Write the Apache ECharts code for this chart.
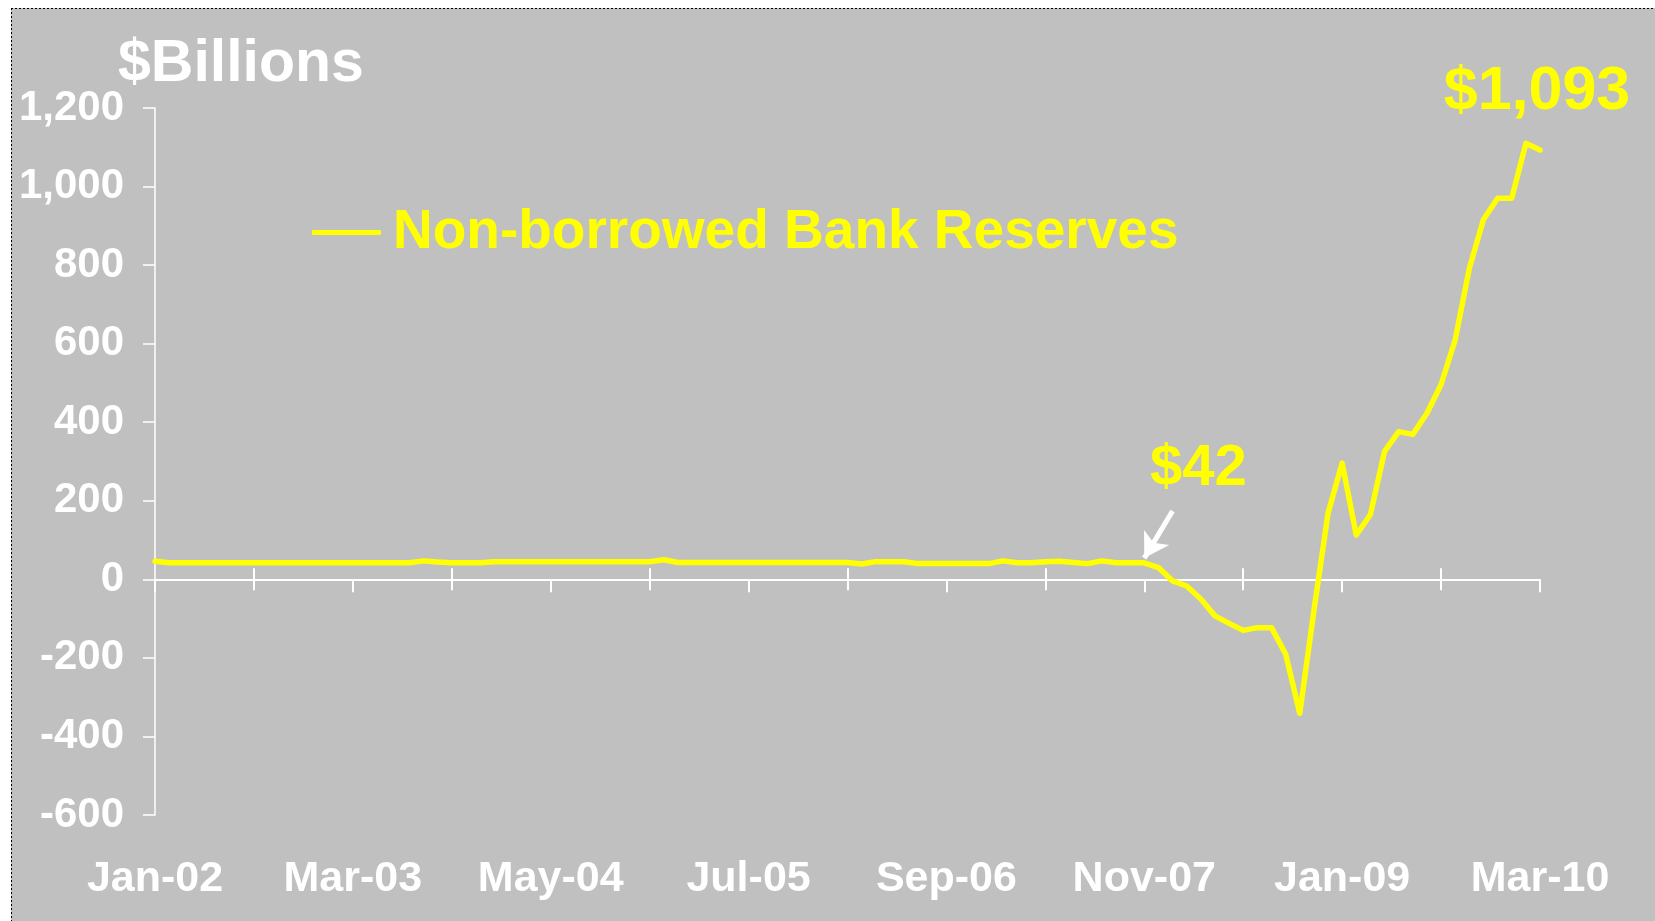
<!DOCTYPE html>
<html>
<head>
<meta charset="utf-8">
<title>Non-borrowed Bank Reserves</title>
<script src="https://cdn.jsdelivr.net/npm/echarts@6/dist/echarts.min.js"></script>
<style>
  html, body { margin: 0; padding: 0; background: #fff; }
  .frame {
    position: absolute; left: 11px; top: 8px; right: 0; bottom: 0;
    background:
      repeating-linear-gradient(to right, #000 0 2px, transparent 2px 4px) top left / 100% 1px no-repeat,
      repeating-linear-gradient(to bottom, #000 0 2px, transparent 2px 4px) top left / 1px 100% no-repeat,
      #c0c0c0;
  }
  #chart { position: absolute; left: 0; top: 0; width: 1655px; height: 921px; }
</style>
</head>
<body>
<div class="frame"></div>
<div id="chart"></div>
<script>
  // monthly categories Jan-02 .. Mar-10
  const monthNames = ['Jan', 'Feb', 'Mar', 'Apr', 'May', 'Jun', 'Jul', 'Aug', 'Sep', 'Oct', 'Nov', 'Dec'];
  const months = [];
  for (let i = 0; i < 99; i++) {
    months.push(monthNames[i % 12] + '-' + String(2 + Math.floor(i / 12)).padStart(2, '0'));
  }

  // $ billions
  const reserves = [
    46, 42, 42, 42, 42, 42, 42, 42, 42, 42, 42, 42, 42, 42, 42, 42, 42, 42, 42,
    47, 44, 42, 42, 42,
    45, 45, 45, 45, 45, 45, 45, 45, 45, 45, 45, 45,
    50, 43, 43, 43, 43, 43, 43, 43, 43, 43, 43, 43, 43, 43,
    39, 45, 45, 45, 40, 40, 40, 40, 40, 40,
    47, 42, 42, 45, 46, 43, 40, 47, 42, 42, 42,
    30, -4, -17, -50, -93, -112, -130, -123, -123, -190, -341, -80,
    168, 296, 113, 165, 326, 376, 369, 423, 496, 610, 792, 916, 970, 970, 1110, 1093
  ];

  const yTicks = [-600, -400, -200, 0, 200, 400, 600, 800, 1000, 1200];

  // callouts
  const calloutLow = { index: 70, text: '$42' };
  const calloutHigh = { index: 98, text: '$1,093' };
  const arrowFrom = [72, 174];
  const arrowTo = [70, 54];

  const font = '"Liberation Sans", Arial, sans-serif';
  const yellow = '#ffff00';

  const seriesData = reserves.map(function (v, i) {
    if (i === calloutLow.index) {
      return { value: v, label: { show: true, formatter: calloutLow.text, position: 'top', offset: [54, -60], fontSize: 58 } };
    }
    if (i === calloutHigh.index) {
      return { value: v, label: { show: true, formatter: calloutHigh.text, position: 'top', offset: [-3, -22], fontSize: 61 } };
    }
    return v;
  });

  function baseX(extra) {
    return Object.assign({
      type: 'category',
      data: months,
      boundaryGap: false,
      position: 'bottom',
      axisLine: { show: false, onZero: true, onZeroAxisIndex: 0 },
      axisTick: { show: false },
      axisLabel: { show: false },
      splitLine: { show: false }
    }, extra);
  }

  const chart = echarts.init(document.getElementById('chart'), null, { renderer: 'canvas' });
  chart.setOption({
    animation: false,
    backgroundColor: 'transparent',
    textStyle: { fontFamily: font },
    title: {
      text: '$Billions',
      left: 118,
      top: 35,
      padding: 0,
      textStyle: { color: '#fff', fontSize: 59, fontWeight: 'bold', fontFamily: font }
    },
    legend: {
      left: 312,
      top: 205,
      padding: 0,
      icon: 'roundRect',
      itemWidth: 69,
      itemHeight: 5,
      textStyle: { color: yellow, fontSize: 55, fontWeight: 'bold', fontFamily: font, padding: [0, 0, 0, 7] },
      data: ['Non-borrowed Bank Reserves']
    },
    grid: { left: 155, right: 115, top: 108, bottom: 106, containLabel: false },
    xAxis: [
      // main axis on zero: ticks under each label
      baseX({
        axisLine: { show: true, onZero: true, onZeroAxisIndex: 0, lineStyle: { color: '#fff', width: 2 } },
        axisTick: {
          show: true, length: 13,
          interval: function (idx) { return idx % 14 === 0; },
          lineStyle: { color: '#fff', width: 2 }
        }
      }),
      // in-between ticks crossing the axis
      baseX({
        axisTick: {
          show: true, length: 11,
          interval: function (idx) { return idx % 14 === 7; },
          lineStyle: { color: '#fff', width: 2 }
        }
      }),
      baseX({
        axisTick: {
          show: true, length: 11, inside: true,
          interval: function (idx) { return idx % 14 === 7; },
          lineStyle: { color: '#fff', width: 2 }
        }
      }),
      // labels sit at the bottom of the plot
      baseX({
        axisLine: { show: false, onZero: false },
        axisLabel: {
          show: true, interval: 13, margin: 43,
          color: '#fff', fontSize: 43, fontWeight: 'bold', fontFamily: font
        }
      })
    ],
    yAxis: {
      type: 'value',
      min: yTicks[0],
      max: yTicks[yTicks.length - 1],
      interval: 200,
      axisLine: { show: true, onZero: false, lineStyle: { color: '#fff', width: 1.5 } },
      axisTick: { show: true, length: 12, lineStyle: { color: '#fff', width: 1.5 } },
      axisLabel: {
        margin: 31, color: '#fff', fontSize: 42, fontWeight: 'bold', fontFamily: font,
        formatter: function (v) { return v.toLocaleString('en-US'); }
      },
      splitLine: { show: false }
    },
    series: [{
      name: 'Non-borrowed Bank Reserves',
      type: 'line',
      xAxisIndex: 0,
      data: seriesData,
      // invisible symbols so the two callout labels can be drawn
      symbol: 'circle',
      symbolSize: 0,
      showSymbol: true,
      showAllSymbol: true,
      lineStyle: { color: yellow, width: 5.5, join: 'round', cap: 'round' },
      itemStyle: { color: yellow },
      label: { color: yellow, fontWeight: 'bold', fontFamily: font, distance: 5 },
      markLine: {
        silent: true,
        symbol: ['none', 'arrow'],
        symbolSize: [22, 24],
        label: { show: false },
        lineStyle: { color: '#fff', width: 5, type: 'solid' },
        data: [[{ coord: arrowFrom }, { coord: arrowTo }]]
      }
    }]
  });
</script>
</body>
</html>
